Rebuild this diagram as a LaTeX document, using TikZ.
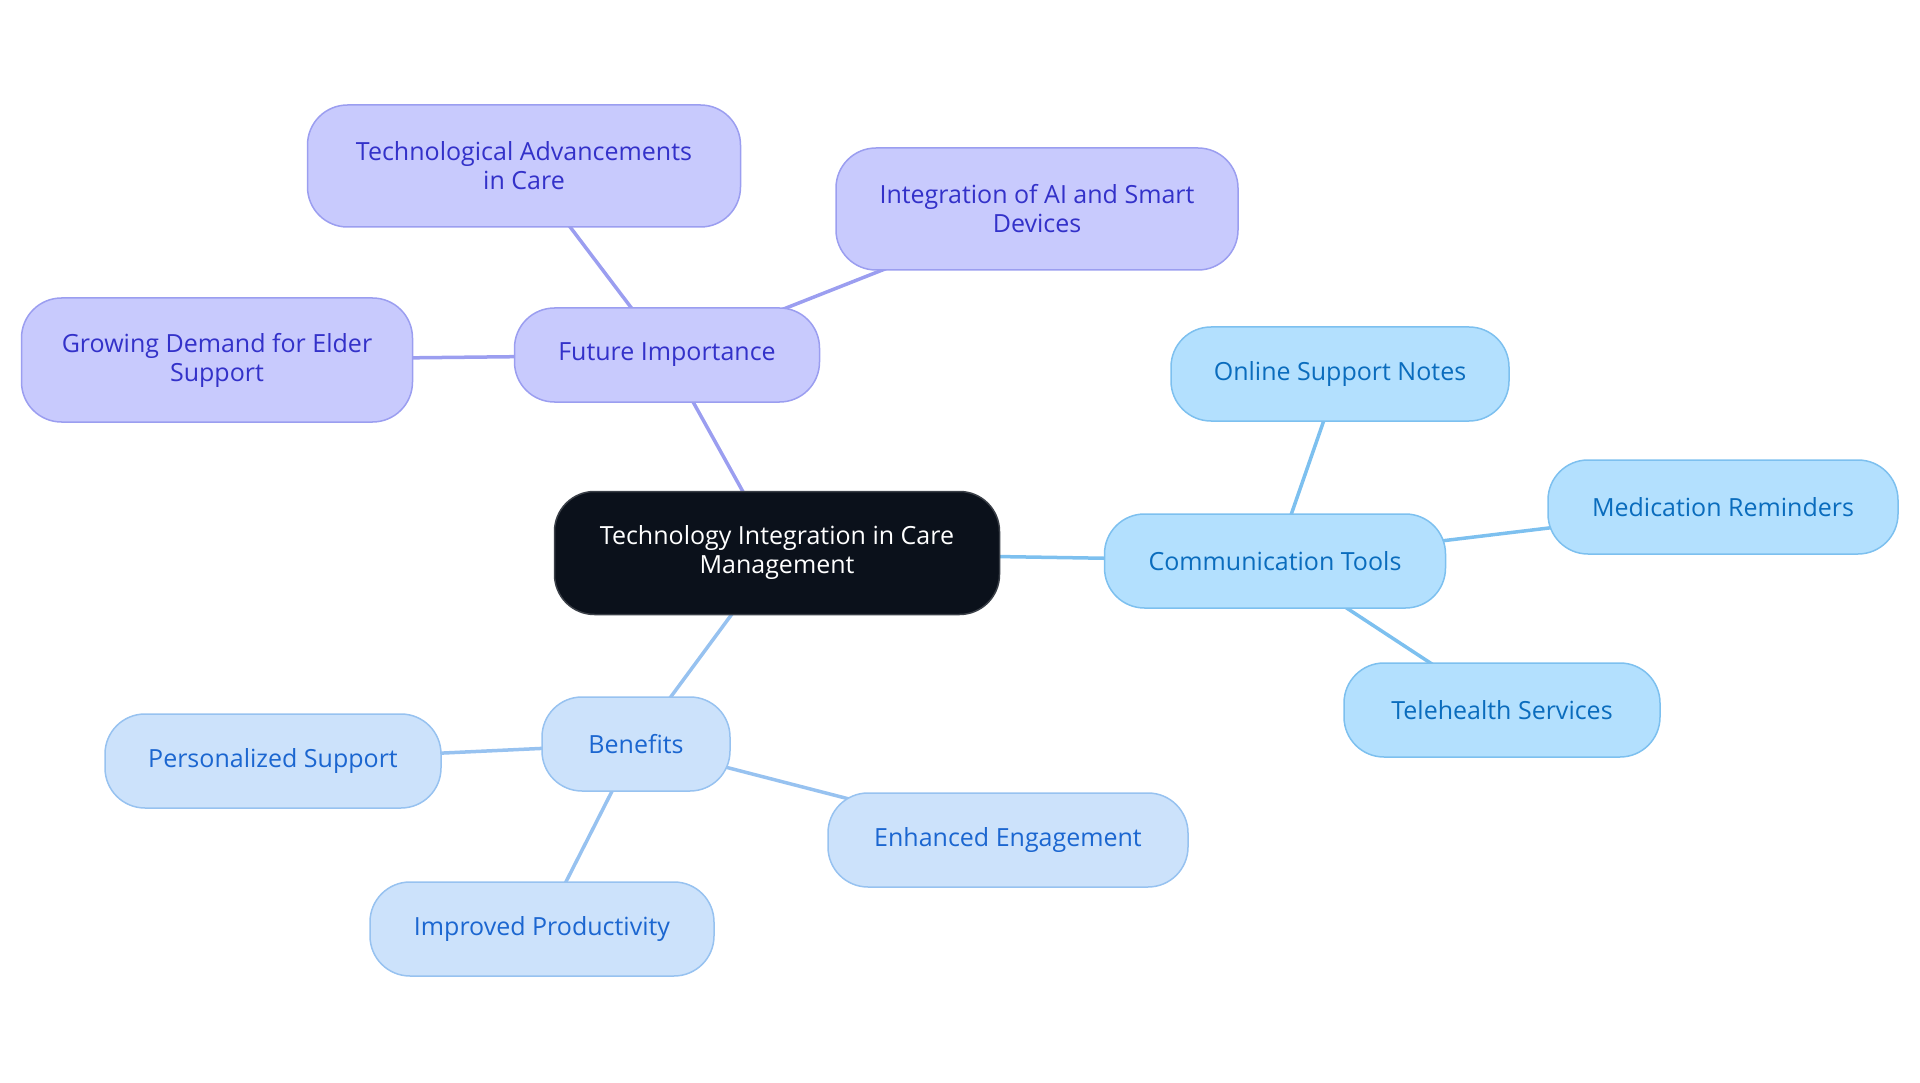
\documentclass[tikz,border=0pt]{standalone}
\usepackage{fontspec}
\setmainfont{Open Sans}
\usepackage{tikz}
\usetikzlibrary{backgrounds}

\definecolor{rootfill}{HTML}{0B111B}
\definecolor{rootline}{HTML}{3A3F47}
\definecolor{purfill}{HTML}{C8CAFD}
\definecolor{purline}{HTML}{9B9EF0}
\definecolor{purtext}{HTML}{3331C9}
\definecolor{cyfill}{HTML}{B3E0FE}
\definecolor{cyline}{HTML}{7DC0EF}
\definecolor{cytext}{HTML}{0A6CBD}
\definecolor{bufill}{HTML}{CCE2FB}
\definecolor{buline}{HTML}{97C2F0}
\definecolor{butext}{HTML}{1B66D0}

\tikzset{
  topic/.style={rounded corners=40pt,line width=1.5pt,align=center,inner sep=0pt,
    font=\fontsize{25}{29}\selectfont,minimum height=94pt},
  root/.style={topic,fill=rootfill,draw=rootline,text=white,minimum height=123pt},
  pur/.style={topic,fill=purfill,draw=purline,text=purtext},
  cy/.style={topic,fill=cyfill,draw=cyline,text=cytext},
  bu/.style={topic,fill=bufill,draw=buline,text=butext},
  link/.style={line width=3.5pt}
}

\begin{document}
\begin{tikzpicture}[x=1pt,y=-1pt]
      \useasboundingbox (0,0) rectangle (1920,1083);

      \node[root,minimum width=445pt] (core) at (777,553) {Technology Integration in Care\\Management};

      \node[pur,minimum width=305pt] (future) at (667,355) {Future Importance};
      \node[pur,minimum width=433pt,minimum height=122pt] (advance) at (524,166) {Technological Advancements\\in Care};
      \node[pur,minimum width=402pt,minimum height=122pt] (smart) at (1037,209) {Integration of AI and Smart\\Devices};
      \node[pur,minimum width=391pt,minimum height=124pt] (elder) at (217,360) {Growing Demand for Elder\\Support};

      \node[cy,minimum width=341pt] (comm) at (1275,561) {Communication Tools};
      \node[cy,minimum width=338pt] (notes) at (1340,374) {Online Support Notes};
      \node[cy,minimum width=350pt] (meds) at (1723,507) {Medication Reminders};
      \node[cy,minimum width=316pt] (tele) at (1502,710) {Telehealth Services};

      \node[bu,minimum width=188pt] (benefit) at (636,744) {Benefits};
      \node[bu,minimum width=336pt] (person) at (273,761) {Personalized Support};
      \node[bu,minimum width=360pt] (engage) at (1008,840) {Enhanced Engagement};
      \node[bu,minimum width=344pt] (product) at (542,929) {Improved Productivity};

      % connectors run centre to centre, under the boxes
      \begin{scope}[on background layer]
      \draw[link,purline] (core.center) -- (future.center);
      \draw[link,purline] (future.center) -- (advance.center);
      \draw[link,purline] (future.center) -- (smart.center);
      \draw[link,purline] (future.center) -- (elder.center);
      \draw[link,cyline] (core.center) -- (comm.center);
      \draw[link,cyline] (comm.center) -- (notes.center);
      \draw[link,cyline] (comm.center) -- (meds.center);
      \draw[link,cyline] (comm.center) -- (tele.center);
      \draw[link,buline] (core.center) -- (benefit.center);
      \draw[link,buline] (benefit.center) -- (person.center);
      \draw[link,buline] (benefit.center) -- (engage.center);
      \draw[link,buline] (benefit.center) -- (product.center);
      \end{scope}
   \end{tikzpicture}
\end{document}
